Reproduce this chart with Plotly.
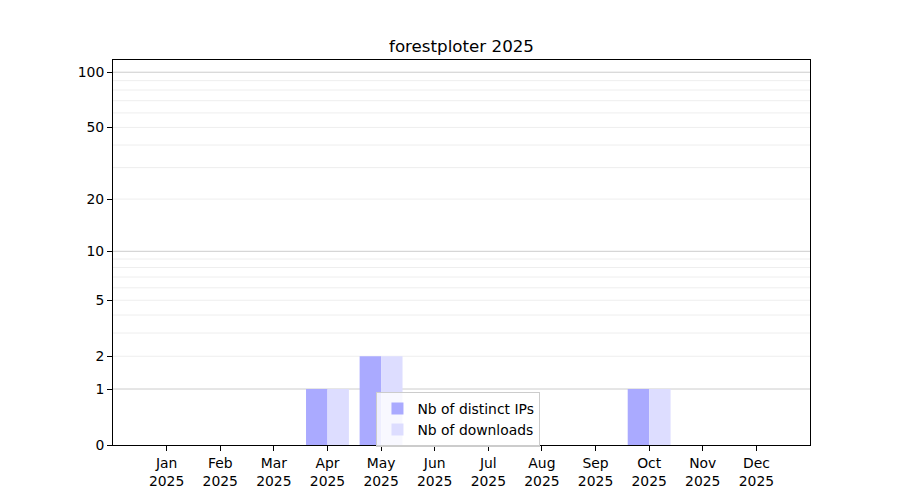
import plotly.graph_objects as go

months = ["Jan", "Feb", "Mar", "Apr", "May", "Jun", "Jul", "Aug", "Sep", "Oct", "Nov", "Dec"]
year = "2025"
distinct_ips = [0, 0, 0, 1, 2, 0, 0, 0, 0, 1, 0, 0]
downloads = [0, 0, 0, 1, 2, 0, 0, 0, 0, 1, 0, 0]
tick_values = [0, 1, 2, 5, 10, 20, 50, 100]
major_grid = [1, 10, 100]
minor_grid = [2, 3, 4, 5, 6, 7, 8, 9, 20, 30, 40, 50, 60, 70, 80, 90]

FONT = "DejaVu Sans"
FS = 13.9
xs = list(range(len(months)))

fig = go.Figure()
fig.add_trace(go.Bar(x=xs, y=distinct_ips, base=1, offset=-0.4, width=0.4,
                     marker=dict(color="#aaaaff", line=dict(width=0)),
                     name="Nb of distinct IPs"))
fig.add_trace(go.Bar(x=xs, y=downloads, base=1, offset=0.0, width=0.4,
                     marker=dict(color="#ddddff", line=dict(width=0)),
                     name="Nb of downloads"))

shapes = []
for v in minor_grid:
    shapes.append(dict(type="line", xref="paper", yref="y", x0=0, x1=1, y0=v + 1, y1=v + 1,
                       line=dict(color="#eeeeee", width=1), layer="below"))
for v in major_grid:
    shapes.append(dict(type="line", xref="paper", yref="y", x0=0, x1=1, y0=v + 1, y1=v + 1,
                       line=dict(color="#cccccc", width=1), layer="below"))

fig.update_layout(
    width=900, height=500,
    margin=dict(l=105, r=98, t=52, b=63),
    paper_bgcolor="white", plot_bgcolor="white",
    barmode="overlay",
    font=dict(family=FONT, size=FS, color="black"),
    title=dict(text="forestploter 2025", x=0.5, xref="paper", xanchor="center",
               y=1 - 38 / 500, yref="container", yanchor="middle",
               font=dict(family=FONT, size=16.7, color="black")),
    shapes=shapes,
    showlegend=True,
    legend=dict(x=0.378, y=0.138, xanchor="left", yanchor="top",
                bgcolor="rgba(255,255,255,0.8)", bordercolor="#cccccc", borderwidth=1,
                font=dict(family=FONT, size=FS), itemwidth=30, tracegroupgap=0),
)
fig.update_xaxes(
    range=[-1, 12], tickmode="array", tickvals=xs,
    ticktext=[f"{m}<br>{year}" for m in months],
    showgrid=False, zeroline=False,
    showline=True, mirror=True, linecolor="black", linewidth=1,
    ticks="outside", ticklen=5, tickcolor="black", tickwidth=1,
    tickfont=dict(family=FONT, size=FS),
)
fig.update_yaxes(
    type="log", range=[0, 2.07], tickmode="array",
    tickvals=[v + 1 for v in tick_values], ticktext=[str(v) for v in tick_values],
    showgrid=False, zeroline=False,
    showline=True, mirror=True, linecolor="black", linewidth=1,
    ticks="outside", ticklen=5, tickcolor="black", tickwidth=1,
    tickfont=dict(family=FONT, size=FS),
)

fig.write_html("out.html")
